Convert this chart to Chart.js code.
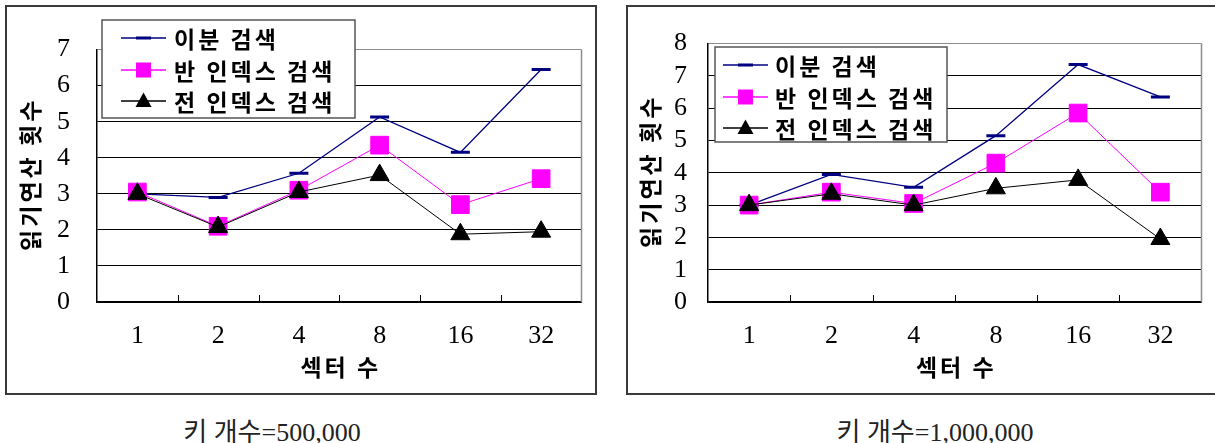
<!DOCTYPE html>
<html>
<head>
<meta charset="utf-8">
<script src="https://cdn.jsdelivr.net/npm/chart.js@4.4.1/dist/chart.umd.min.js"></script>
<style>
  body { margin: 0; background: #fff; width: 1215px; height: 443px; overflow: hidden; position: relative; }
  .frame { position: absolute; border: 2px solid #3a3a3a; box-sizing: border-box; }
  canvas { position: absolute; }
  .caption { position: absolute; top: 411px; font: 26px "Liberation Serif", "Noto Sans CJK KR", serif; color: #222; white-space: nowrap; transform: translateX(-50%); }
</style>
</head>
<body>
<div class="frame" style="left:5px;top:5px;width:592px;height:390px"></div>
<div class="frame" style="left:626px;top:5px;width:620px;height:390px"></div>
<canvas id="chartLeft" width="588" height="386" style="left:7px;top:7px"></canvas>
<canvas id="chartRight" width="587" height="386" style="left:628px;top:7px"></canvas>
<div class="caption" style="left:272px">키 개수=500,000</div>
<div class="caption" style="left:935px">키 개수=1,000,000</div>

<script>
const categories = ['1', '2', '4', '8', '16', '32'];
const seriesNames = ['이분 검색', '반 인덱스 검색', '전 인덱스 검색'];
const xTitle = '섹터 수';
const yTitle = '읽기연산 횟수';

// 키 개수=500,000
const binary500k = [3.0, 2.9, 3.57, 5.13, 4.15, 6.45];
const halfIndex500k = [3.05, 2.1, 3.1, 4.35, 2.7, 3.42];
const fullIndex500k = [3.0, 2.08, 3.05, 3.52, 1.88, 1.95];
const yMax500k = 7;

// 키 개수=1,000,000
const binary1m = [3.0, 3.95, 3.55, 5.15, 7.35, 6.35];
const halfIndex1m = [3.0, 3.4, 3.05, 4.3, 5.85, 3.4];
const fullIndex1m = [3.0, 3.35, 3.0, 3.52, 3.78, 1.95];
const yMax1m = 8;

const NAVY = '#000080';
const MAGENTA = '#ff00ff';
const BLACK = '#000000';
const koFont = 'bold 23px "Noto Sans CJK KR", sans-serif';
const numFont = '"Liberation Serif", "Times New Roman", serif';

// canvas here has no letterSpacing, so space the hangul by hand
const spacedText = (ctx, text, x, y, gap, align) => {
  const chars = [...text];
  const widths = chars.map(ch => ctx.measureText(ch).width);
  const total = widths.reduce((a, b) => a + b, 0) + gap * (chars.length - 1);
  let cx = align === 'center' ? x - total / 2 : x;
  ctx.textAlign = 'left';
  chars.forEach((ch, i) => {
    ctx.fillText(ch, cx, y);
    cx += widths[i] + gap;
  });
};

const drawMarker = (ctx, style, x, y, color) => {
  ctx.fillStyle = color;
  if (style === 'line') {
    ctx.fillRect(x - 7.5, y - 1.5, 15, 3);
  } else if (style === 'rect') {
    ctx.fillRect(x - 7.5, y - 7.5, 15, 15);
  } else {
    ctx.beginPath();
    ctx.moveTo(x, y - 8.5);
    ctx.lineTo(x - 8, y + 6);
    ctx.lineTo(x + 8, y + 6);
    ctx.closePath();
    ctx.fill();
  }
};

const legendBox = {
  id: 'legendBox',
  afterDatasetsDraw(chart, args, opts) {
    const ctx = chart.ctx;
    const area = chart.chartArea;
    ctx.save();
    // plot area border, right side
    ctx.strokeStyle = '#8c8c8c';
    ctx.lineWidth = 1.5;
    ctx.beginPath();
    ctx.moveTo(area.right, area.top);
    ctx.lineTo(area.right, area.bottom);
    ctx.stroke();

    // short inner ticks between the categories
    const xs = chart.scales.x;
    ctx.strokeStyle = '#000';
    ctx.lineWidth = 1;
    for (let i = 1; i < categories.length; i++) {
      const px = Math.round((xs.getPixelForValue(i - 1) + xs.getPixelForValue(i)) / 2) + 0.5;
      ctx.beginPath();
      ctx.moveTo(px, area.bottom);
      ctx.lineTo(px, area.bottom - 7);
      ctx.stroke();
    }

    // axis titles
    ctx.fillStyle = '#000';
    ctx.font = koFont;
    ctx.textBaseline = 'middle';
    spacedText(ctx, xTitle, (area.left + area.right) / 2, opts.xTitleY, 3, 'center');
    ctx.save();
    ctx.translate(opts.yTitleX, (area.top + area.bottom) / 2);
    ctx.rotate(-Math.PI / 2);
    spacedText(ctx, yTitle, 0, 0, 3, 'center');
    ctx.restore();

    // legend
    ctx.fillStyle = '#fff';
    ctx.fillRect(opts.x, opts.y, opts.w, opts.h);
    ctx.strokeStyle = '#555';
    ctx.lineWidth = 1.5;
    ctx.strokeRect(opts.x, opts.y, opts.w, opts.h);

    chart.data.datasets.forEach((ds, i) => {
      const y = opts.rows[i];
      ctx.strokeStyle = ds.borderColor;
      ctx.lineWidth = 1.3;
      ctx.beginPath();
      ctx.moveTo(opts.lineX, y);
      ctx.lineTo(opts.lineX + 45, y);
      ctx.stroke();
      drawMarker(ctx, ds.pointStyle, opts.lineX + 22.5, y, ds.pointBackgroundColor || ds.borderColor);
      ctx.fillStyle = '#000';
      spacedText(ctx, ds.label, opts.textX, y + 1, 3, 'left');
    });
    ctx.restore();
  }
};

const makeChart = (id, values, yMax, layout) => {
  const ctx = document.getElementById(id).getContext('2d');
  return new Chart(ctx, {
    type: 'line',
    data: {
      labels: categories,
      datasets: [{
        label: seriesNames[0],
        data: values[0],
        borderColor: NAVY,
        borderWidth: 1.3,
        pointStyle: 'line',
        pointRadius: 9.5,
        pointBorderWidth: 3,
        pointBorderColor: NAVY,
        order: 2
      }, {
        label: seriesNames[1],
        data: values[1],
        borderColor: MAGENTA,
        borderWidth: 1,
        pointStyle: 'rect',
        pointRadius: 12.5,
        pointBackgroundColor: MAGENTA,
        pointBorderColor: MAGENTA,
        pointBorderWidth: 1,
        order: 1
      }, {
        label: seriesNames[2],
        data: values[2],
        borderColor: BLACK,
        borderWidth: 1,
        pointStyle: 'triangle',
        pointRadius: 11,
        pointBackgroundColor: BLACK,
        pointBorderColor: BLACK,
        pointBorderWidth: 1,
        order: 0
      }]
    },
    options: {
      responsive: false,
      animation: false,
      events: [],
      layout: { padding: { top: layout.top, right: layout.right, left: 0, bottom: 0 } },
      plugins: {
        legend: { display: false },
        tooltip: { enabled: false },
        legendBox: layout.legend
      },
      scales: {
        x: {
          offset: true,
          grid: { display: false },
          border: { display: true, color: '#000', width: 1.5 },
          ticks: { color: '#000', padding: layout.xPad, font: { family: numFont, size: 26 } },
          afterFit: scale => { scale.height = layout.bottom; }
        },
        y: {
          min: 0,
          max: yMax,
          grid: {
            drawTicks: false,
            lineWidth: 1,
            color: c => c.tick.value === yMax ? '#8c8c8c' : '#000'
          },
          border: { display: true, color: '#000', width: 1.5 },
          ticks: { stepSize: 1, autoSkip: false, color: '#000', padding: layout.yPad, font: { family: numFont, size: 26 } },
          afterFit: scale => { scale.width = layout.left; }
        }
      }
    },
    plugins: [legendBox]
  });
};

makeChart('chartLeft', [binary500k, halfIndex500k, fullIndex500k], yMax500k, {
  left: 90, top: 28, right: 9, bottom: 91, xPad: 11, yPad: 27,
  legend: { x: 95, y: 13, w: 253, h: 98, rows: [31, 63, 94], lineX: 114, textX: 167, xTitleY: 360, yTitleX: 23 }
});

makeChart('chartRight', [binary1m, halfIndex1m, fullIndex1m], yMax1m, {
  left: 80, top: 29, right: 5, bottom: 91, xPad: 11, yPad: 21,
  legend: { x: 87, y: 40, w: 232, h: 95, rows: [58, 90, 121], lineX: 95, textX: 147, xTitleY: 360, yTitleX: 22 }
});
</script>
</body>
</html>
